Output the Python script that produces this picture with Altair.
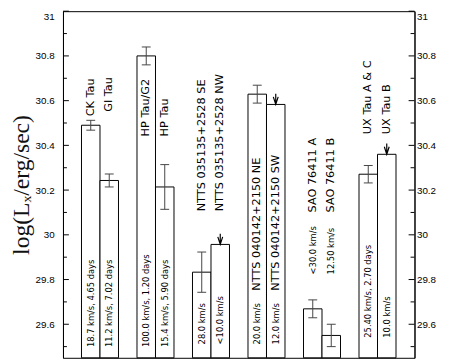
import altair as alt
import pandas as pd

# ---- data ----
names = ["CK Tau", "GI Tau", "HP Tau/G2", "HP Tau",
         "NTTS 035135+2528 SE", "NTTS 035135+2528 NW",
         "NTTS 040142+2150 NE", "NTTS 040142+2150 SW",
         "SAO 76411 A", "SAO 76411 B", "UX Tau A & C", "UX Tau B"]
info = ["18.7 km/s, 4.65 days", "11.2 km/s, 7.02 days",
        "100.0 km/s, 1.20 days", "15.4 km/s, 5.90 days",
        "28.0 km/s", "<10.0 km/s", "20.0 km/s", "12.0 km/s",
        "<30.0 km/s", "12.50 km/s", "25.40 km/s, 2.70 days", "10.0 km/s"]
slots = [1, 2, 4, 5, 7, 8, 10, 11, 13, 14, 16, 17]
log_lx = [30.49, 30.243, 30.80, 30.214, 29.833, 29.957,
          30.629, 30.583, 29.669, 29.55, 30.271, 30.36]
errors = [0.022, 0.029, 0.04, 0.10, 0.09, None,
          0.04, None, 0.04, 0.05, 0.039, None]
is_upper = [False, False, False, False, False, True,
            False, True, False, False, False, True]
name_label_at = [30.53, 30.55, 30.44, 30.44, 30.105, 30.105,
                 29.75, 29.75, 30.10, 30.10, 30.45, 30.45]
info_label_at = [29.498, 29.498, 29.498, 29.498, 29.51, 29.51,
                 29.51, 29.51, 29.823, 29.823, 29.54, 29.54]
major_ticks = [29.6, 29.8, 30.0, 30.2, 30.4, 30.6, 30.8, 31.0]
minor_ticks = [29.5, 29.7, 29.9, 30.1, 30.3, 30.5, 30.7, 30.9]
y_min, y_max = 29.45, 31.0
x_max = 19

W, H = 358, 353

df = pd.DataFrame({"name": names, "info": info, "slot": slots, "v": log_lx,
                   "err": errors, "upper": is_upper,
                   "name_at": name_label_at, "info_at": info_label_at})
df["x0"] = df["slot"]
df["x1"] = df["slot"] + 1
df["xc"] = df["slot"] + 0.5
df["base"] = y_min

df_e = df[df["err"].notna()].copy()
df_e["lo"] = df_e["v"] - df_e["err"]
df_e["hi"] = df_e["v"] + df_e["err"]
df_e["cl"] = df_e["xc"] - 0.24
df_e["cr"] = df_e["xc"] + 0.24
df_u = df[df["upper"]].copy()

df_major = pd.DataFrame({"t": major_ticks})
df_minor = pd.DataFrame({"t": minor_ticks})

xs = alt.Scale(domain=[0, x_max], nice=False, zero=False)
ys = alt.Scale(domain=[y_min, y_max], nice=False, zero=False)

lab = dict(labelFont="Liberation Sans", labelFontSize=10, labelColor="black",
           labelFlush=True, ticks=False, tickSize=0, domainColor="black",
           domainWidth=1, grid=False, values=major_ticks, format=".3~g")

bars = alt.Chart(df).mark_bar(fill="white", stroke="black", strokeWidth=1).encode(
    x=alt.X("x0:Q", scale=xs, axis=None),
    x2="x1:Q",
    y=alt.Y("v:Q", scale=ys,
            axis=alt.Axis(orient="left", labelPadding=9,
                          title="log(Lₓ/erg/sec)", titleFont="Liberation Serif",
                          titleFontSize=24, titleFontWeight="normal",
                          titleColor="#111", titlePadding=2, **lab)),
    y2="base:Q",
)

err_line = alt.Chart(df_e).mark_rule(color="#444", strokeWidth=1).encode(
    x=alt.X("xc:Q", scale=xs, axis=None),
    y=alt.Y("lo:Q", scale=ys, axis=None), y2="hi:Q")
cap_lo = alt.Chart(df_e).mark_rule(color="#444", strokeWidth=1).encode(
    x=alt.X("cl:Q", scale=xs, axis=None), x2="cr:Q",
    y=alt.Y("lo:Q", scale=ys, axis=None))
cap_hi = alt.Chart(df_e).mark_rule(color="#444", strokeWidth=1).encode(
    x=alt.X("cl:Q", scale=xs, axis=None), x2="cr:Q",
    y=alt.Y("hi:Q", scale=ys, axis=None))

arrows = alt.Chart(df_u).mark_point(
    shape="M0,-1L0,1M-0.45,-0.4L0,1L0.45,-0.4", size=121, filled=False,
    stroke="black", strokeWidth=1.2, opacity=1, yOffset=-5.5).encode(
    x=alt.X("xc:Q", scale=xs, axis=None),
    y=alt.Y("v:Q", scale=ys, axis=None))

name_text = alt.Chart(df).mark_text(
    angle=270, align="left", baseline="middle", font="DejaVu Sans",
    fontSize=11.5, color="black").encode(
    x=alt.X("xc:Q", scale=xs, axis=None),
    y=alt.Y("name_at:Q", scale=ys, axis=None),
    text="name:N")

info_text = alt.Chart(df).mark_text(
    angle=270, align="left", baseline="middle", font="DejaVu Sans",
    fontSize=8.5, color="black").encode(
    x=alt.X("xc:Q", scale=xs, axis=None),
    y=alt.Y("info_at:Q", scale=ys, axis=None),
    text="info:N")

left_major = alt.Chart(df_major).mark_rule(color="black").encode(
    y=alt.Y("t:Q", scale=ys, axis=None), x=alt.value(0), x2=alt.value(6))
left_minor = alt.Chart(df_minor).mark_rule(color="black").encode(
    y=alt.Y("t:Q", scale=ys, axis=None), x=alt.value(0), x2=alt.value(4))
right_major = alt.Chart(df_major).mark_rule(color="black").encode(
    y=alt.Y("t:Q", scale=ys,
            axis=alt.Axis(orient="right", labelPadding=2, title=None, **lab)),
    x=alt.value(W), x2=alt.value(W - 6))
right_minor = alt.Chart(df_minor).mark_rule(color="black").encode(
    y=alt.Y("t:Q", scale=ys, axis=None), x=alt.value(W), x2=alt.value(W - 4))

chart = alt.layer(
    bars, err_line, cap_lo, cap_hi, arrows, name_text, info_text,
    left_major, left_minor, right_major, right_minor,
).resolve_axis(y="independent").properties(
    width=W, height=H,
    autosize=alt.AutoSizeParams(type="none"),
    padding={"left": 56, "top": 0, "right": 28, "bottom": 0},
    background="white",
).configure_view(stroke="black", strokeWidth=1)

chart.save("out.html", embed_options={"renderer": "svg", "actions": False})
